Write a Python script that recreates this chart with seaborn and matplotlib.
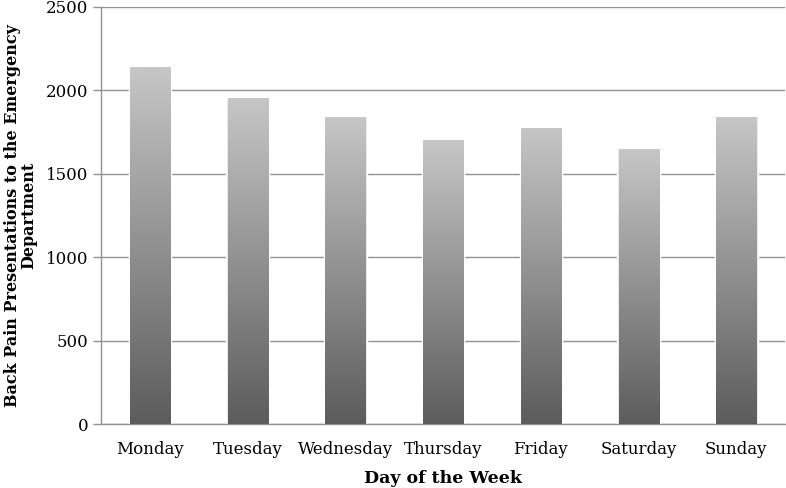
import numpy as np
import pandas as pd
import matplotlib
matplotlib.use('Agg')
import matplotlib.pyplot as plt
import seaborn as sns
from matplotlib.colors import LinearSegmentedColormap

# dados
dias = ['Monday', 'Tuesday', 'Wednesday', 'Thursday', 'Friday', 'Saturday', 'Sunday']
casos = [2138, 1953, 1838, 1700, 1776, 1646, 1838]
y_ticks = [0, 500, 1000, 1500, 2000, 2500]

df = pd.DataFrame({'dia': dias, 'casos': casos})

sns.set_theme(style="white")
plt.rcParams['font.family'] = ['DejaVu Serif']
plt.rcParams['text.color'] = 'black'
plt.rcParams['axes.labelcolor'] = 'black'
plt.rcParams['xtick.labelcolor'] = 'black'
plt.rcParams['ytick.labelcolor'] = 'black'

fig = plt.figure(figsize=(7.86, 4.88), dpi=100)
ax = fig.add_axes([0.1285, 0.131, 0.8705, 0.855])

sns.barplot(data=df, x='dia', y='casos', color='#8a8a8a', width=0.41,
            saturation=1, ax=ax, zorder=3)

# gradiente vertical em cada barra (escuro embaixo, claro em cima)
cmap = LinearSegmentedColormap.from_list('grad', ['#5c5c5c', '#c6c6c6'])
grad = np.linspace(0, 1, 256).reshape(-1, 1)
for bar in list(ax.patches):
    x0, y0 = bar.get_x(), bar.get_y()
    w, h = bar.get_width(), bar.get_height()
    # leve sombra
    ax.bar(x0 + w / 2, h, width=w * 1.06, color='#e6e6e6', zorder=2)
    im = ax.imshow(grad, cmap=cmap, origin='lower', aspect='auto',
                   extent=[x0, x0 + w, y0, y0 + h], zorder=4)
    im.set_clip_path(bar)
    bar.set_edgecolor('none')

ax.set_xlim(-0.5, len(dias) - 0.5)
ax.set_ylim(0, 2500)
ax.set_yticks(y_ticks)
ax.set_yticklabels([str(t) for t in y_ticks], fontsize=12)
ax.yaxis.grid(True, color='#929292', linewidth=1.0, zorder=0)
ax.set_axisbelow(True)

# ticks do eixo x nas fronteiras das categorias
ax.set_xticks(np.arange(len(dias)), labels=dias, fontsize=12)
ax.set_xticks(np.arange(len(dias) + 1) - 0.5, minor=True)
ax.tick_params(axis='x', which='major', length=0, pad=12)
ax.tick_params(axis='x', which='minor', length=6, width=1, color='#929292', direction='out')
ax.tick_params(axis='y', length=6, width=1, color='#929292', direction='out', left=True, pad=3)

for side in ['top', 'right']:
    ax.spines[side].set_visible(False)
for side in ['left', 'bottom']:
    ax.spines[side].set_color('#929292')
    ax.spines[side].set_linewidth(1.0)

ax.set_xlabel('Day of the Week', fontsize=12.5, fontweight='bold', labelpad=9)
ax.set_ylabel('Back Pain Presentations to the Emergency\nDepartment',
              fontsize=11.5, fontweight='bold', labelpad=6, linespacing=1.0)

fig.savefig('out.png', dpi=100)
